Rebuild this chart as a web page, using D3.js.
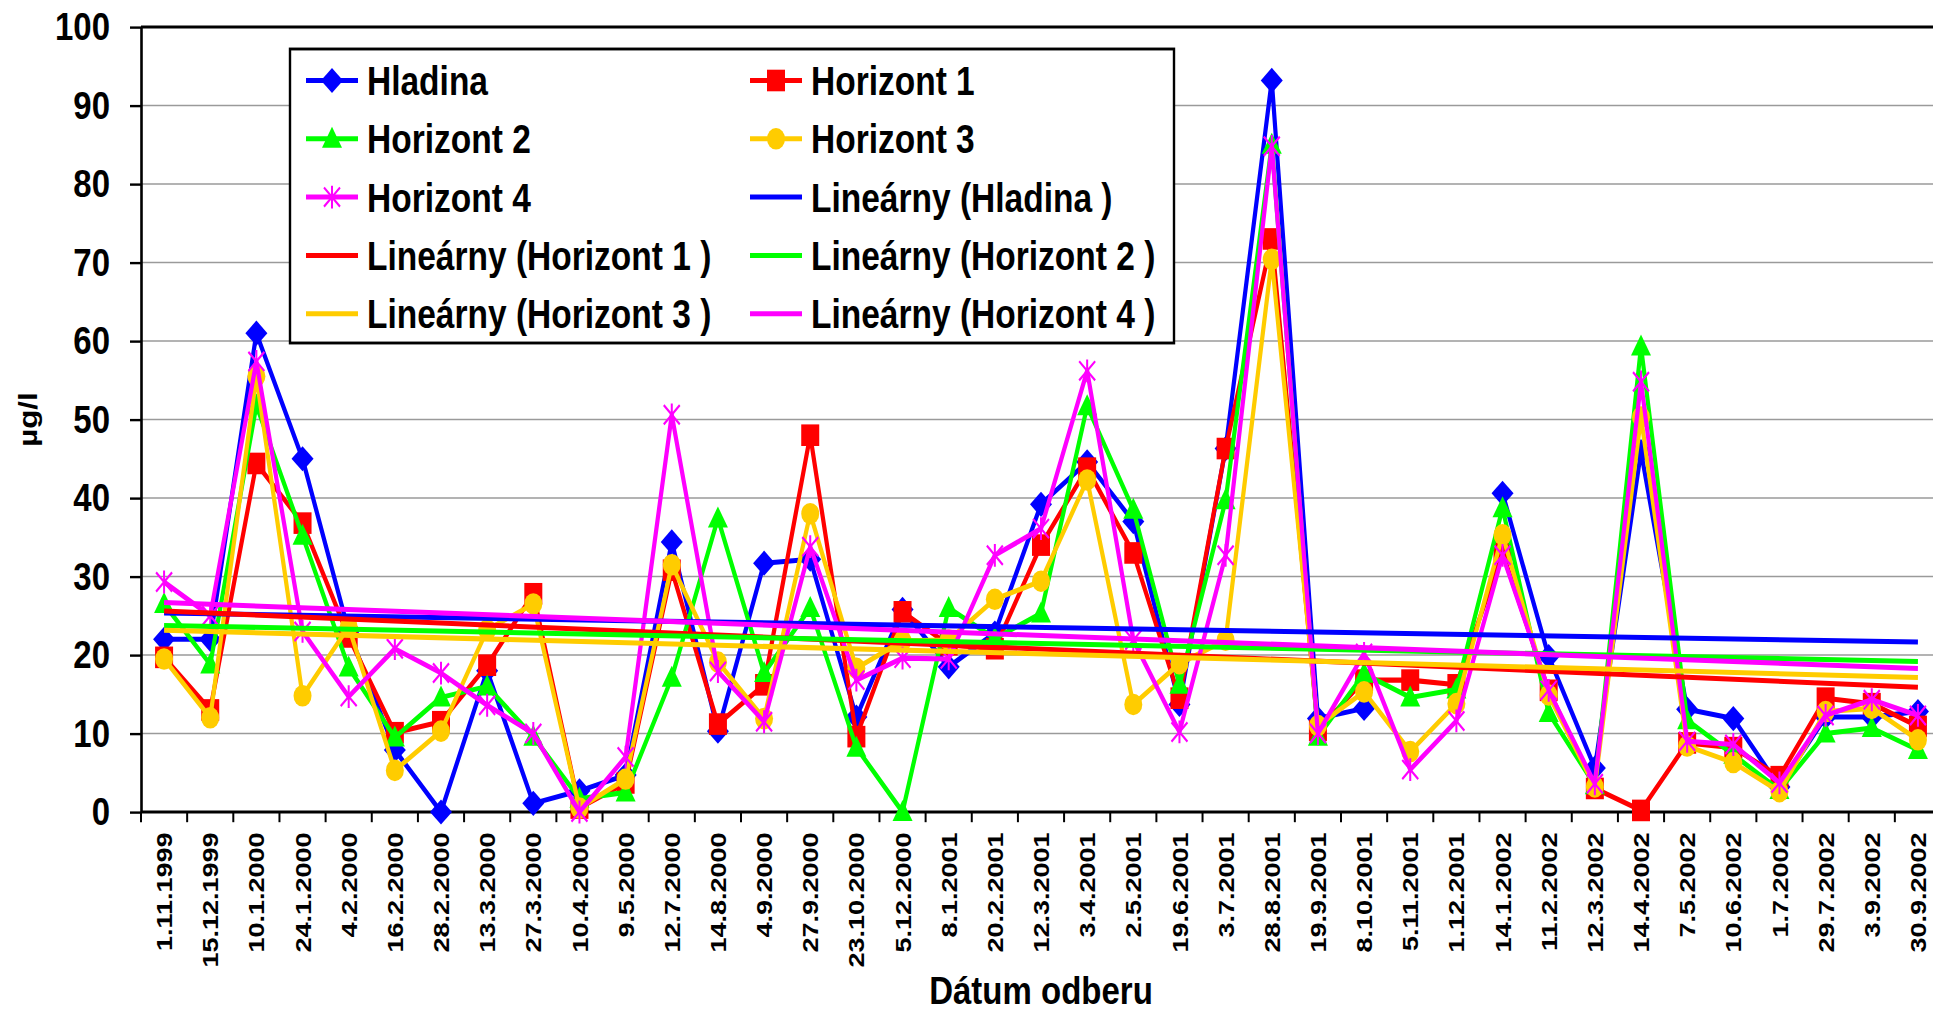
<!DOCTYPE html>
<html>
<head>
<meta charset="utf-8">
<script src="https://cdn.jsdelivr.net/npm/d3@7"></script>
<style>
  html, body { margin: 0; padding: 0; background: #ffffff; overflow: hidden; }
  svg { display: block; font-family: "Liberation Sans", Arial, sans-serif; font-weight: bold; }
</style>
</head>
<body>
<svg id="chart" width="1933" height="1012"></svg>
<script>
// Sampling dates (category axis)
const dates = ["1.11.1999","15.12.1999","10.1.2000","24.1.2000","4.2.2000","16.2.2000","28.2.2000",
  "13.3.2000","27.3.2000","10.4.2000","9.5.2000","12.7.2000","14.8.2000","4.9.2000","27.9.2000",
  "23.10.2000","5.12.2000","8.1.2001","20.2.2001","12.3.2001","3.4.2001","2.5.2001","19.6.2001",
  "3.7.2001","28.8.2001","19.9.2001","8.10.2001","5.11.2001","1.12.2001","14.1.2002","11.2.2002",
  "12.3.2002","14.4.2002","7.5.2002","10.6.2002","1.7.2002","29.7.2002","3.9.2002","30.9.2002"];

// Concentrations in µg/l per depth (null = no sample)
const hladina   = [22.0,22.0,61.0,45.0,23.0,7.9,0,18.0,1.1,2.7,4.7,34.4,10.3,31.7,32.2,12.1,25.8,18.5,22.8,39.2,
  44.6,37.0,13.7,46.3,93.2,11.9,13.2,null,null,40.6,19.8,5.6,45.9,13.1,11.9,3.2,12.1,12.1,12.8];
const horizont1 = [19.7,13.0,44.4,36.8,22.3,10.1,11.5,18.7,27.8,0.5,3.7,30.8,11.2,16.2,48.0,9.6,25.5,21.3,20.8,34.0,
  43.8,33.0,14.5,46.3,73.0,10.4,16.8,16.8,16.2,33.0,15.5,3.0,0.2,8.8,8.2,4.5,14.5,13.8,10.9];
const horizont2 = [26.5,18.8,51.8,35.2,18.4,9.5,14.6,16.0,9.6,1.7,2.5,17.1,37.4,17.7,26.0,8.2,0,26.0,22.1,25.3,
  51.7,38.5,16.2,39.7,85.0,9.6,17.6,14.6,15.6,38.7,12.6,3.4,59.3,11.7,7.3,2.8,10.0,10.7,7.9];
const horizont3 = [19.5,12.0,55.5,14.8,23.6,5.3,10.3,23.2,26.5,0.5,4.2,31.5,19.1,11.9,38.0,18.3,21.8,21.9,27.1,29.4,
  42.3,13.7,18.9,21.9,70.4,11.0,15.3,7.7,13.8,35.3,14.9,3.2,50.3,8.4,6.3,2.6,12.8,13.2,9.2];
const horizont4 = [29.3,25.0,57.4,23.0,14.7,20.8,17.7,13.6,10.0,0,7.0,50.6,17.9,11.5,33.8,16.8,19.6,19.5,32.7,36.1,
  56.2,21.9,10.2,32.7,84.8,10.0,20.2,5.4,11.6,32.7,15.5,3.6,54.8,9.0,8.6,3.7,12.3,14.3,12.3];

const seriesNames  = ["Hladina","Horizont 1","Horizont 2","Horizont 3","Horizont 4"];
const seriesColors = ["#0000ff","#ff0000","#00ff00","#ffcc00","#ff00ff"];
const seriesShapes = ["diamond","square","triangle","circle","star"];
const yTicks = [0,10,20,30,40,50,60,70,80,90,100];

const seriesValues = [hladina, horizont1, horizont2, horizont3, horizont4];

// The whole drawing is stretched vertically
const SY = 1.2;
const plotLeft = 141, plotRight = 1941, plotTop = 27 / SY, plotBottom = 812 / SY;

const svg = d3.select("#chart");
const root = svg.append("g").attr("transform", `scale(1,${SY})`);

const x = d3.scaleBand().domain(dates).range([plotLeft, plotRight]).paddingInner(0).paddingOuter(0);
const y = d3.scaleLinear().domain([0, 100]).range([plotBottom, plotTop]);
const cx = d => x(d) + x.bandwidth() / 2;

// Horizontal gridlines
root.append("g")
  .selectAll("line")
  .data(yTicks.filter(t => t > 0 && t < 100))
  .join("line")
  .attr("x1", plotLeft).attr("x2", plotRight)
  .attr("y1", d => y(d)).attr("y2", d => y(d))
  .attr("stroke", "#9a9a9a").attr("stroke-width", 1.4);

// Plot area top border
root.append("line")
  .attr("x1", plotLeft).attr("x2", plotRight)
  .attr("y1", y(100)).attr("y2", y(100))
  .attr("stroke", "#000").attr("stroke-width", 2.6);

// Y axis
const yAxis = root.append("g")
  .attr("transform", `translate(${plotLeft},0)`)
  .call(d3.axisLeft(y).tickValues(yTicks).tickSize(11).tickSizeOuter(0).tickPadding(20));
yAxis.select(".domain").attr("stroke", "#000").attr("stroke-width", 2.6);
yAxis.selectAll(".tick line").attr("stroke", "#000").attr("stroke-width", 2);
yAxis.selectAll(".tick text")
  .attr("font-size", 33).attr("font-weight", "bold").attr("fill", "#000")
  .attr("font-family", "'Liberation Sans', Arial, sans-serif");

// X axis: labels at band centres, tick marks at band edges
const xAxis = root.append("g")
  .attr("transform", `translate(0,${plotBottom})`)
  .call(d3.axisBottom(x).tickSize(0).tickSizeOuter(0));
xAxis.select(".domain").remove();
xAxis.selectAll(".tick text")
  .attr("font-size", 22.5).attr("font-weight", "bold").attr("fill", "#000")
  .attr("font-family", "'Liberation Sans', Arial, sans-serif")
  .attr("transform", "rotate(-90)")
  .attr("text-anchor", "end")
  .attr("x", -17).attr("y", 0).attr("dy", "0.36em");

root.append("g")
  .selectAll("line")
  .data(dates.map(d => x(d)).concat([plotRight]))
  .join("line")
  .attr("x1", d => d).attr("x2", d => d)
  .attr("y1", plotBottom).attr("y2", plotBottom + 8.5)
  .attr("stroke", "#000").attr("stroke-width", 2);

root.append("line")
  .attr("x1", plotLeft).attr("x2", plotRight)
  .attr("y1", plotBottom).attr("y2", plotBottom)
  .attr("stroke", "#000").attr("stroke-width", 2.6);

// Axis titles
root.append("text")
  .attr("x", (plotLeft + plotRight) / 2).attr("y", 1004 / SY)
  .attr("text-anchor", "middle")
  .attr("font-size", 33).attr("fill", "#000")
  .text("Dátum odberu");

root.append("text")
  .attr("transform", `translate(37,${(plotTop + plotBottom) / 2}) rotate(-90)`)
  .attr("text-anchor", "middle")
  .attr("font-size", 26).attr("fill", "#000")
  .text("µg/l");

// Marker shapes
function drawMarker(sel, shape, color) {
  if (shape === "diamond") {
    sel.append("path").attr("d", "M0,-10.5L11,0L0,10.5L-11,0Z").attr("fill", color);
  } else if (shape === "square") {
    sel.append("rect").attr("x", -9).attr("y", -9).attr("width", 18).attr("height", 18).attr("fill", color);
  } else if (shape === "triangle") {
    sel.append("path").attr("d", "M0,-10L10,7.5L-10,7.5Z").attr("fill", color);
  } else if (shape === "circle") {
    sel.append("circle").attr("r", 9).attr("fill", color);
  } else if (shape === "star") {
    sel.append("path").attr("d", "M0,-9.5V9.5M-8,-8L8,8M-8,8L8,-8")
      .attr("stroke", color).attr("stroke-width", 2).attr("fill", "none");
  }
}

// Data series: line then markers, one series after another
const line = d3.line()
  .defined(d => d.v !== null)
  .x(d => cx(d.date))
  .y(d => y(d.v));

seriesValues.forEach((vals, i) => {
  const pts = dates.map((date, k) => ({ date, v: vals[k] }));
  const g = root.append("g");
  g.append("path")
    .datum(pts)
    .attr("d", line)
    .attr("fill", "none")
    .attr("stroke", seriesColors[i])
    .attr("stroke-width", 4.2)
    .attr("stroke-linejoin", "round");
  g.selectAll("g.m")
    .data(pts.filter(p => p.v !== null))
    .join("g")
    .attr("class", "m")
    .attr("transform", p => `translate(${cx(p.date)},${y(p.v)})`)
    .each(function () { drawMarker(d3.select(this), seriesShapes[i], seriesColors[i]); });
});

// Linear trend lines (least squares over sample index 1..n)
function linearFit(vals) {
  const pts = vals.map((v, k) => [k + 1, v]).filter(p => p[1] !== null);
  const mx = d3.mean(pts, p => p[0]), my = d3.mean(pts, p => p[1]);
  const sxy = d3.sum(pts, p => (p[0] - mx) * (p[1] - my));
  const sxx = d3.sum(pts, p => (p[0] - mx) * (p[0] - mx));
  const b = sxy / sxx, a = my - b * mx;
  return k => a + b * (k + 1);
}

seriesValues.forEach((vals, i) => {
  const f = linearFit(vals);
  root.append("line")
    .attr("x1", cx(dates[0])).attr("y1", y(f(0)))
    .attr("x2", cx(dates[dates.length - 1])).attr("y2", y(f(dates.length - 1)))
    .attr("stroke", seriesColors[i]).attr("stroke-width", 4.2);
});

// Legend
const legendItems = [];
seriesNames.forEach((n, i) => legendItems.push({ label: n, color: seriesColors[i], shape: seriesShapes[i] }));
seriesNames.forEach((n, i) => legendItems.push({ label: `Lineárny (${n} )`, color: seriesColors[i], shape: null }));

const lg = root.append("g");
lg.append("rect")
  .attr("x", 290).attr("y", 49 / SY)
  .attr("width", 1174 - 290).attr("height", (343 - 49) / SY)
  .attr("fill", "#fff").attr("stroke", "#000").attr("stroke-width", 2.4);

const colSym = [306, 750], colText = [367, 811];
const rowY0 = 80.5 / SY, rowStep = 58.3 / SY;

legendItems.forEach((it, idx) => {
  const col = idx % 2, row = Math.floor(idx / 2);
  const yy = rowY0 + row * rowStep;
  const g = lg.append("g");
  g.append("line")
    .attr("x1", colSym[col]).attr("x2", colSym[col] + 52)
    .attr("y1", yy).attr("y2", yy)
    .attr("stroke", it.color).attr("stroke-width", 4.2);
  if (it.shape) {
    const m = g.append("g").attr("transform", `translate(${colSym[col] + 26},${yy})`);
    drawMarker(m, it.shape, it.color);
  }
  g.append("text")
    .attr("x", colText[col]).attr("y", yy).attr("dy", "0.36em")
    .attr("font-size", 33.5).attr("fill", "#000")
    .text(it.label);
});
</script>
</body>
</html>
